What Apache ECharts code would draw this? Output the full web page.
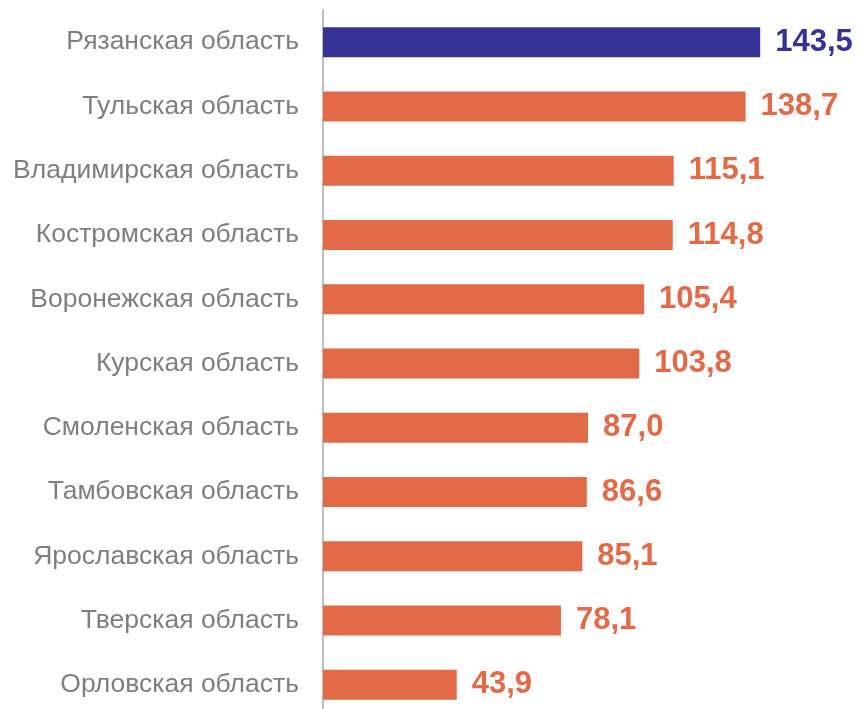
<!DOCTYPE html>
<html><head><meta charset="utf-8">
<script src="https://cdn.jsdelivr.net/npm/echarts@6/dist/echarts.min.js"></script>
<style>html,body{margin:0;padding:0;background:#fff}#c{width:862px;height:709px}</style>
</head><body><div id="c"></div>
<script>
const categories = ["Рязанская область","Тульская область","Владимирская область","Костромская область","Воронежская область","Курская область","Смоленская область","Тамбовская область","Ярославская область","Тверская область","Орловская область"];
const values = [143.5,138.7,115.1,114.8,105.4,103.8,87.0,86.6,85.1,78.1,43.9];
const highlight = "Рязанская область";
const blue = "#363394", orange = "#E36A49";
const chart = echarts.init(document.getElementById('c'));
chart.setOption({
  animation:false,
  grid:{left:323,top:10,right:82,bottom:-8,containLabel:false,outerBoundsMode:'none'},
  xAxis:{type:'value',min:0,max:150,show:false},
  yAxis:{type:'category',inverse:true,data:categories,
    axisLine:{show:true,lineStyle:{color:'#bfbfbf',width:2}},
    axisTick:{show:false},
    axisLabel:{color:'#7f7f7f',fontSize:26.5,fontFamily:'Liberation Sans',margin:24}},
  series:[{type:'bar',barWidth:30,
    data:values.map((v,i)=>({value:v,itemStyle:{color:categories[i]===highlight?blue:orange},
      label:{color:categories[i]===highlight?blue:orange}})),
    label:{show:true,position:'right',distance:15,fontSize:31,fontWeight:'bold',fontFamily:'Liberation Sans',
      formatter:p=>p.value.toFixed(1).replace('.',',')}}]
});
</script></body></html>
